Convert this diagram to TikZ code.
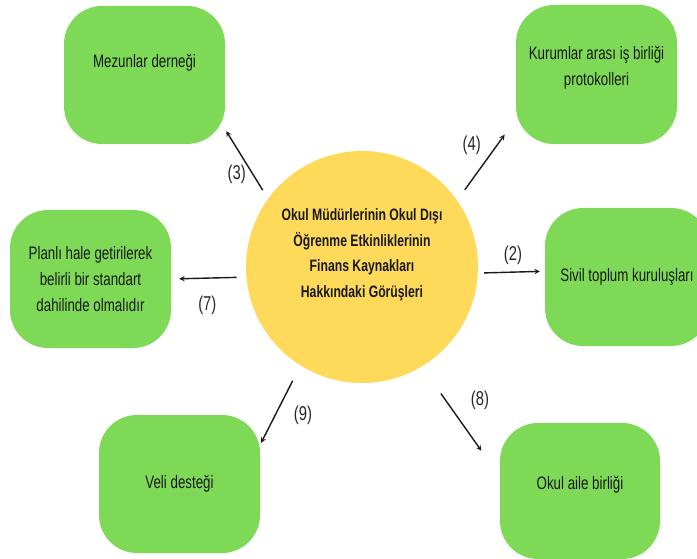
\documentclass[tikz,border=0pt]{standalone}
\usepackage{fontspec}
\setmainfont{Liberation Sans}[FakeStretch=0.74]
\usetikzlibrary{arrows}
\definecolor{boxgreen}{HTML}{7ED957}
\definecolor{hubyellow}{HTML}{FFDA5A}

\begin{document}
\begin{tikzpicture}[x=1pt,y=-1pt,>=stealth]
  % styles
  \tikzstyle{hub} = [circle,fill=hubyellow,minimum size=232pt,inner sep=0pt,align=center,font=\fontsize{16.5}{25.5}\selectfont\bfseries,text=black!90];
  \tikzstyle{opinion} = [rectangle,rounded corners=38pt,fill=boxgreen,minimum width=161pt,minimum height=138pt,inner sep=0pt,align=center,font=\fontsize{18}{26}\selectfont,text=black!90];
  \tikzstyle{num} = [font=\fontsize{20}{24}\selectfont,text=black!85];
  \tikzstyle{link} = [->,line width=1.4pt,black!90];

  \useasboundingbox (0,0) rectangle (697,559);

  % nodes
  \node[hub,text depth=27.5pt] (hub) at (362,267) {Okul Müdürlerinin Okul Dışı\\Öğrenme Etkinliklerinin\\Finans Kaynakları\\Hakkındaki Görüşleri};
  \node[opinion,text depth=28pt] (mez) at (144.5,75) {Mezunlar derneği};
  \node[opinion,minimum height=139pt,text depth=17pt] (kur) at (596.5,74.5) {Kurumlar arası iş birliği\\protokolleri};
  \node[opinion] (plan) at (90.5,279) {Planlı hale getirilerek\\belirli bir standart\\dahilinde olmalıdır};
  \node[opinion,minimum width=164pt] (siv) at (627,277) {Sivil toplum kuruluşları};
  \node[opinion] (veli) at (179.5,484) {Veli desteği};
  \node[opinion,minimum width=160pt,minimum height=136pt,text depth=16pt] (aile) at (580,491) {Okul aile birliği};

  % numbers
  \node[num] (lbl3) at (236.7,174) {(3)};
  \node[num] (lbl4) at (471.7,145) {(4)};
  \node[num] (lbl2) at (513,255) {(2)};
  \node[num] (lbl7) at (207.3,305) {(7)};
  \node[num] (lbl9) at (303,415) {(9)};
  \node[num] (lbl8) at (480,400) {(8)};

  % edges
  \draw[link,shorten <=10pt,shorten >=2pt] (hub.144) -- (mez.326.6);
  \draw[link,shorten <=13pt,shorten >=19pt] (hub.35) -- (kur.209.5);
  \draw[link,shorten <=6pt,shorten >=5pt] (hub.357.5) -- (siv.176);
  \draw[link,shorten <=9.6pt,shorten >=8pt] (hub.185.9) -- (plan.east);
  \draw[link,shorten <=17pt,shorten >=2pt] (hub.238.3) -- (veli.26);
  \draw[link,shorten <=33pt,shorten >=32pt] (hub.301.6) -- (aile.170.4);
\end{tikzpicture}
\end{document}
